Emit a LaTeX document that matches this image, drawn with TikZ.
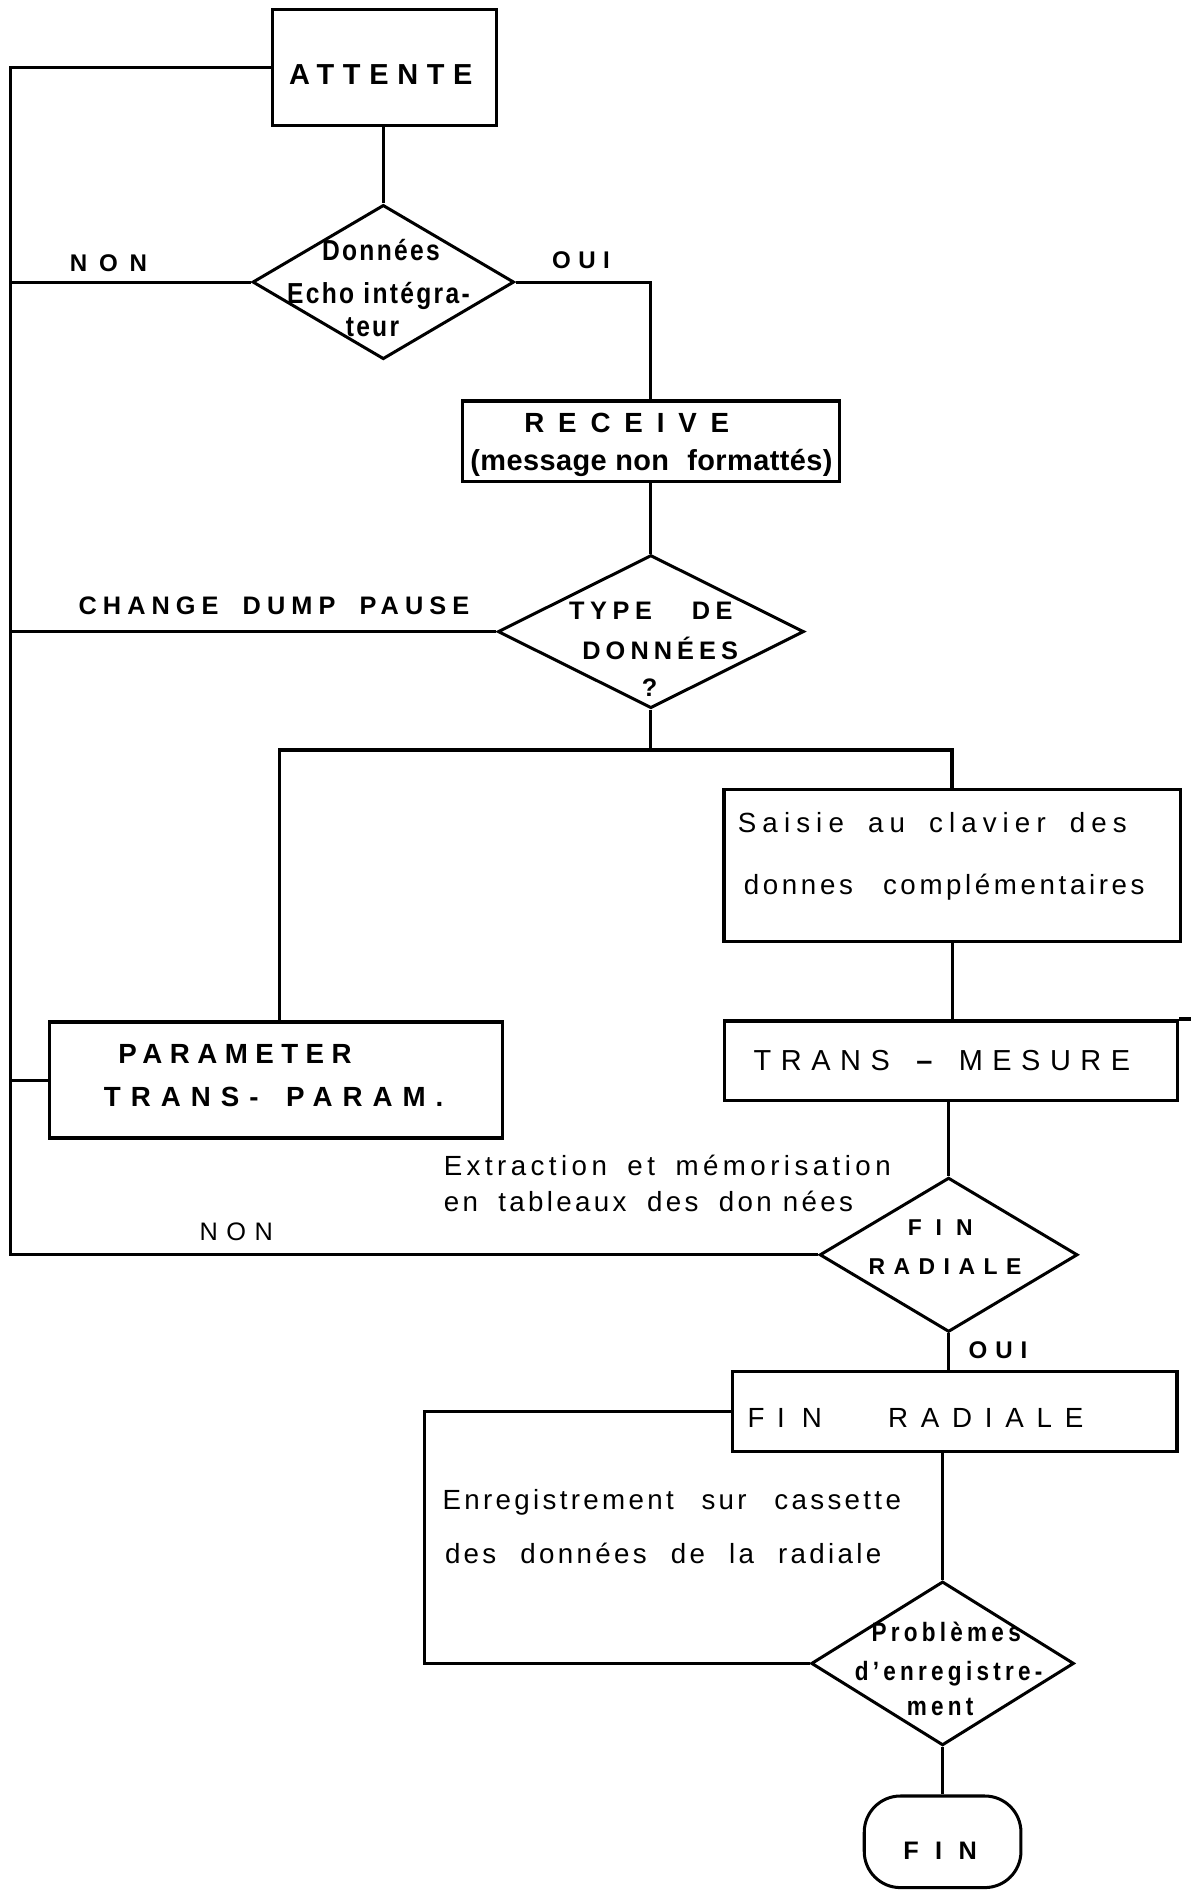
\documentclass[tikz,border=0pt]{standalone}
\usepackage{fontspec}
\setmainfont{Liberation Sans}
\usetikzlibrary{shapes.geometric}
% font size helper; tracking helper: letter spacing and explicit word space (0 = normal)
\newcommand\fsz[1]{\fontsize{#1}{#1}\selectfont}
\newcommand\trk[2]{\addfontfeature{LetterSpace=#1}\spaceskip=#2pt\relax}
% narrow bold face used inside the decision diamonds
\newfontfamily\narrowbold[FakeStretch=0.85]{Liberation Sans Bold}
\begin{document}
\begin{tikzpicture}[x=1pt,y=-1pt,
  ln/.style={line width=2.5pt},
  frame/.style={draw, line width=2.9pt, inner sep=0pt},
  rbox/.style={frame, rectangle},
  dbox/.style={frame, diamond, line width=2.5pt},
  term/.style={frame, rectangle, rounded corners=30pt, line width=2.5pt},
  lbl/.style={inner sep=0pt, anchor=base},
  lblw/.style={inner sep=0pt, anchor=base west},
]
\fill[white] (0,0) rectangle (988,1568);
\useasboundingbox (0,0) rectangle (988,1568);

% ---- shapes ----
\node[rbox, minimum width=186pt, minimum height=96pt] (att) at (319,56) {};
\node[dbox, minimum width=217pt, minimum height=128pt] (q1) at (318,234) {};
\node[rbox, minimum width=313pt, minimum height=67pt] (rcv) at (540,366) {};
\node[dbox, minimum width=254pt, minimum height=127pt] (q2) at (540,524) {};
\node[rbox, minimum width=376pt, minimum height=96pt] (par) at (229,896) {};
\node[rbox, minimum width=379pt, minimum height=126pt] (sai) at (790,718) {};
\node[rbox, minimum width=376pt, minimum height=66pt] (tm) at (789,880) {};
\node[dbox, minimum width=214pt, minimum height=128pt] (q3) at (787,1041) {};
\node[rbox, minimum width=369pt, minimum height=66pt] (fr) at (792,1171) {};
\node[dbox, minimum width=218pt, minimum height=136pt] (q4) at (782,1380) {};
\node[term, minimum width=130pt, minimum height=76pt] (fin) at (782,1528) {};

% ---- helper coordinates ----
\coordinate (trunk) at (9,0);
\coordinate (bus) at (540,622);
\coordinate (busL) at (232,622);
\coordinate (busR) at (790,622);
\coordinate (loop) at (352,0);
\coordinate (rim) at (988,0);

% ---- connectors ----
\draw[ln] (att.west) -- (att.west -| trunk) -- (q3.west -| trunk) -- (q3.west);
\draw[ln] (q1.west) -- (q1.west -| trunk);
\draw[ln] (att.south -| q1.north) -- (q1.north);
\draw[ln] (q1.east) -| (rcv.north);
\draw[ln] (rcv.south) -- (q2.north);
\draw[ln] (q2.west) -- (q2.west -| trunk);
\draw[ln] (q2.south) -- (bus);
\draw[ln, line width=3pt] (par.north -| busL) -- (busL) -- (busR) -- (sai.north -| busR);
\draw[ln] (par.west) -- (par.west -| trunk);
\draw[ln] (sai.south) -- (sai.south |- tm.north);
\draw[ln, line width=2.9pt] (tm.north east) -- (tm.north east -| rim);
\draw[ln] (tm.south -| q3.north) -- (q3.north);
\draw[ln] (q3.south) -- (q3.south |- fr.north);
\draw[ln] (fr.west) -- (fr.west -| loop) -- (q4.west -| loop) -- (q4.west);
\draw[ln] (fr.south -| q4.north) -- (q4.north);
\draw[ln] (q4.south) -- (q4.south |- fin.north);

% ---- texts ----
\node[lbl, font=\fsz{24}\bfseries\trk{30}{0}] (attT) at (316,70) {ATTENTE};

\node[lbl, font=\fsz{24}\narrowbold\trk{8}{0}] (q1a) at (316,216) {Données};
\node[lbl, font=\fsz{24}\narrowbold\trk{8}{0}] (q1b) at (314,252) {Echo intégra-};
\node[lbl, font=\fsz{24}\narrowbold\trk{8}{0}] (q1c) at (309,279) {teur};
\node[lbl, font=\fsz{20}\bfseries\trk{49}{0}] (nonA) at (90,225) {NON};
\node[lbl, font=\fsz{20}\bfseries\trk{31}{0}] (ouiA) at (482,223) {OUI};

\node[lbl, font=\fsz{23}\bfseries\trk{50}{0}] (rcvT) at (520,359) {RECEIVE};
\node[lblw, font=\fsz{24}\bfseries\trk{1.5}{0}] (rcvS) at (390,390) {(message non \hspace{8pt}formattés)};

\node[lblw, font=\fsz{21}\bfseries\trk{22}{33}] (q2a) at (472,514) {TYPE DE};
\node[lblw, font=\fsz{21}\bfseries\trk{20}{0}] (q2b) at (483,547) {DONNÉES};
\node[lbl, font=\fsz{21}\bfseries] (q2c) at (539,578) {?};
\node[lblw, font=\fsz{21}\bfseries\trk{24}{20}] (chg) at (65,510) {CHANGE DUMP PAUSE};

\node[lblw, font=\fsz{23}\trk{22}{20}] (saiA) at (612,691) {Saisie au clavier des};
\node[lblw, font=\fsz{23}\trk{13}{25}] (saiB) at (617,742) {donnes complémentaires};
\node[lblw, font=\fsz{24}\trk{33}{14}] (tmT) at (625,888) {TRANS \textbf{–} MESURE};

\node[lblw, font=\fsz{23}\bfseries\trk{27}{0}] (parA) at (98,882) {PARAMETER};
\node[lblw, font=\fsz{23}\bfseries\trk{36}{23}] (parB) at (86,918) {TRANS- PARAM.};

\node[lblw, font=\fsz{23}\trk{16}{17}] (extA) at (368,975) {Extraction et mémorisation};
\node[lblw, font=\fsz{23}\trk{12}{17}] (extB) at (368,1005) {en tableaux des {\spaceskip=0pt don nées}};
\node[lbl, font=\fsz{21}\trk{34}{0}] (nonB) at (196,1029) {NON};

\node[lbl, font=\fsz{19}\bfseries\trk{61}{0}] (q3a) at (780,1025) {FIN};
\node[lbl, font=\fsz{19}\bfseries\trk{37}{0}] (q3b) at (784,1057) {RADIALE};
\node[lbl, font=\fsz{20}\bfseries\trk{33}{0}] (ouiB) at (828,1127) {OUI};

\node[lblw, font=\fsz{23}\trk{46}{55}] (frT) at (620,1184) {FI\kern14pt N RADIALE};
\node[lblw, font=\fsz{23}\trk{12}{23}] (enrA) at (367,1252) {Enregistrement sur cassette};
\node[lblw, font=\fsz{23}\trk{12}{20}] (enrB) at (369,1297) {des données de la radiale};

\node[lbl, font=\fsz{22}\narrowbold\trk{16}{0}] (q4a) at (785,1362) {Problèmes};
\node[lbl, font=\fsz{22}\narrowbold\trk{16}{0}] (q4b) at (787,1394) {d’enregistre-};
\node[lbl, font=\fsz{22}\narrowbold\trk{16}{0}] (q4c) at (780,1423) {ment};
\node[lbl, font=\fsz{21}\bfseries\trk{65}{0}] (finT) at (780,1543) {FIN};
\end{tikzpicture}
\end{document}
